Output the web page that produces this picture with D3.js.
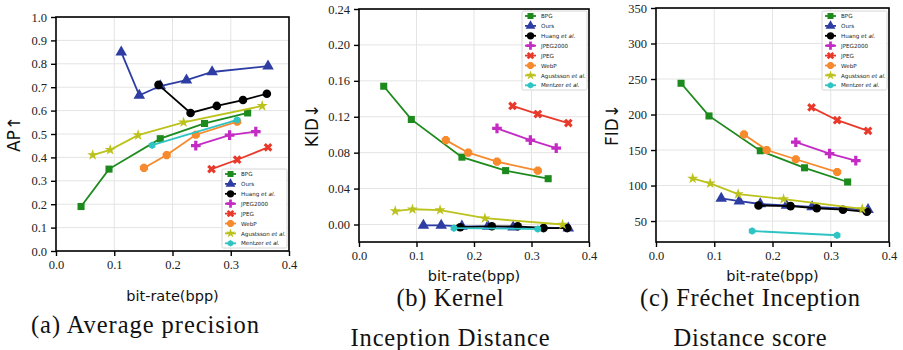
<!DOCTYPE html>
<html>
<head>
<meta charset="utf-8">
<script src="https://cdn.jsdelivr.net/npm/d3@7"></script>
<style>
  body { margin: 0; background: #fff; }
  svg { display: block; }
</style>
</head>
<body>
<div id="chart"></div>
<script>
// methods shown in every panel
const methods = ["BPG", "Ours", "Huang", "JPEG2000", "JPEG", "WebP", "Agustsson", "Mentzer"];
const colors = ["#1d8a1d", "#2e3da3", "#000000", "#c42ac4", "#e8392b", "#f68a2c", "#bcc21c", "#2ec4c4"];
const xTicks = [0.0, 0.1, 0.2, 0.3, 0.4];

// bit-rate (bpp) per method
const bppBPG = [0.043, 0.091, 0.179, 0.255, 0.329];
const bppOurs = [0.112, 0.143, 0.179, 0.224, 0.268, 0.364];
const bppHuang = [0.176, 0.231, 0.276, 0.321, 0.362];
const bppJ2K = [0.240, 0.298, 0.343];
const bppJPEG = [0.267, 0.311, 0.364];
const bppWebP = [0.151, 0.190, 0.240, 0.311];
const bppAgus = [0.063, 0.093, 0.141, 0.219, 0.354];
const bppMentzer = [0.165, 0.311];

// (a) average precision
const apBPG = [0.19, 0.35, 0.48, 0.545, 0.59];
const apOurs = [0.85, 0.665, 0.705, 0.73, 0.765, 0.79];
const apHuang = [0.71, 0.59, 0.62, 0.645, 0.672];
const apJ2K = [0.45, 0.495, 0.51];
const apJPEG = [0.35, 0.39, 0.443];
const apWebP = [0.355, 0.41, 0.497, 0.553];
const apAgus = [0.41, 0.432, 0.495, 0.55, 0.62];
const apMentzer = [0.452, 0.56];
const apTicks = [0.0, 0.1, 0.2, 0.3, 0.4, 0.5, 0.6, 0.7, 0.8, 0.9, 1.0];

// (b) KID
const kidBPG = [0.154, 0.117, 0.075, 0.060, 0.051];
const kidOurs = [-0.001, -0.001, -0.002, -0.002, -0.003, -0.004];
const kidHuang = [-0.003, -0.002, -0.002, -0.004, -0.004];
const kidJ2K = [0.107, 0.094, 0.085];
const kidJPEG = [0.132, 0.123, 0.113];
const kidWebP = [0.094, 0.080, 0.070, 0.060];
const kidAgus = [0.015, 0.017, 0.016, 0.007, 0.000];
const kidMentzer = [-0.004, -0.005];
const kidTicks = [0.00, 0.04, 0.08, 0.12, 0.16, 0.20, 0.24];

// (c) FID
const fidBPG = [244, 198, 149, 125, 105];
const fidOurs = [82, 78, 74, 72, 70, 66];
const fidHuang = [72, 71, 68, 66, 63];
const fidJ2K = [161, 145, 135];
const fidJPEG = [210, 192, 177];
const fidWebP = [172, 150, 137, 119];
const fidAgus = [110, 103, 88, 81, 67];
const fidMentzer = [36, 30];
const fidTicks = [50, 100, 150, 200, 250, 300, 350];

const bpps = [bppBPG, bppOurs, bppHuang, bppJ2K, bppJPEG, bppWebP, bppAgus, bppMentzer];

const W = 903, H = 350;
const svg = d3.select("#chart").append("svg").attr("width", W).attr("height", H);

// marker paths for each method
function polygon(n, r, rot) {
  const pts = d3.range(n).map(i => {
    const a = rot + i * 2 * Math.PI / n;
    return [r * Math.sin(a), -r * Math.cos(a)];
  });
  return "M" + pts.map(p => p.join(",")).join("L") + "Z";
}
const markers = [
  d3.symbol(d3.symbolSquare, 50)(),
  d3.symbol(d3.symbolTriangle, 58)(),
  d3.symbol(d3.symbolCircle, 58)(),
  d3.symbol(d3.symbolCross, 52)(),
  d3.symbol(d3.symbolCross, 48)(),
  polygon(8, 4.4, Math.PI / 8),
  d3.symbol(d3.symbolStar, 38)(),
  polygon(6, 3.8, 0)
];
const markerRot = [0, 0, 0, 0, 45, 0, 0, 0];

function drawPanel(p) {
  const g = svg.append("g");
  const x = d3.scaleLinear().domain([0, 0.4]).range([p.x0, p.x1]);
  const y = d3.scaleLinear().domain(p.yDomain).range([p.y1, p.y0]);

  // grid
  g.append("g").selectAll("line").data(xTicks.slice(1, -1)).join("line")
    .attr("x1", d => x(d)).attr("x2", d => x(d)).attr("y1", p.y0).attr("y2", p.y1)
    .attr("stroke", "#e4e4e4").attr("stroke-width", 1);
  g.append("g").selectAll("line").data(p.yTicks).join("line")
    .attr("x1", p.x0).attr("x2", p.x1).attr("y1", d => y(d)).attr("y2", d => y(d))
    .attr("stroke", "#e4e4e4").attr("stroke-width", 1);

  // axes
  const ax = g.append("g").attr("transform", `translate(0,${p.y1})`)
    .call(d3.axisBottom(x).tickValues(xTicks).tickFormat(d3.format(".1f")).tickSize(5).tickPadding(4).tickSizeOuter(0));
  const ay = g.append("g").attr("transform", `translate(${p.x0},0)`)
    .call(d3.axisLeft(y).tickValues(p.yTicks).tickFormat(p.fmt).tickSize(5).tickPadding(4).tickSizeOuter(0));
  [ax, ay].forEach(a => {
    a.select(".domain").remove();
    a.selectAll("text").attr("font-family", "Liberation Serif, serif").attr("font-size", 12.5).attr("fill", "#222");
    a.selectAll("line").attr("stroke", "#000").attr("stroke-width", 1.4);
  });

  // lines and markers
  methods.forEach((m, i) => {
    const pts = bpps[i].map((b, k) => [b, p.vals[i][k]]);
    g.append("path").datum(pts)
      .attr("fill", "none").attr("stroke", colors[i]).attr("stroke-width", 1.8)
      .attr("d", d3.line().x(d => x(d[0])).y(d => y(d[1])));
    g.append("g").selectAll("path").data(pts).join("path")
      .attr("d", markers[i]).attr("fill", colors[i])
      .attr("transform", d => `translate(${x(d[0])},${y(d[1])}) rotate(${markerRot[i]})`);
  });

  // frame
  g.append("rect").attr("x", p.x0).attr("y", p.y0).attr("width", p.x1 - p.x0).attr("height", p.y1 - p.y0)
    .attr("fill", "none").attr("stroke", "#000").attr("stroke-width", 1.6);

  // legend
  const lg = g.append("g").attr("transform", `translate(${p.lx},${p.ly})`);
  lg.append("rect").attr("width", 65).attr("height", 79).attr("rx", 1.5)
    .attr("fill", "#fff").attr("fill-opacity", 0.9).attr("stroke", "#ccc").attr("stroke-width", 0.8);
  const labels = [["BPG", ""], ["Ours", ""], ["Huang ", "et al."], ["JPEG2000", ""], ["JPEG", ""], ["WebP", ""], ["Agustsson ", "et al."], ["Mentzer ", "et al."]];
  methods.forEach((m, i) => {
    const yy = 5 + i * 9.9;
    lg.append("line").attr("x1", 3).attr("x2", 14).attr("y1", yy).attr("y2", yy)
      .attr("stroke", colors[i]).attr("stroke-width", 1.8);
    lg.append("path").attr("d", markers[i]).attr("fill", colors[i])
      .attr("transform", `translate(8.5,${yy}) rotate(${markerRot[i]}) scale(0.85)`);
    const t = lg.append("text").attr("x", 19).attr("y", yy + 2.1)
      .attr("font-family", "DejaVu Sans, sans-serif").attr("font-size", 5.6).attr("fill", "#222");
    t.append("tspan").text(labels[i][0]);
    if (labels[i][1]) t.append("tspan").attr("font-style", "italic").text(labels[i][1]);
  });

  // axis titles
  svg.append("text").attr("transform", `translate(${p.ylx},${(p.y0 + p.y1) / 2}) rotate(-90)`)
    .attr("text-anchor", "middle").attr("font-family", "DejaVu Sans, sans-serif").attr("font-size", 17)
    .attr("fill", "#111").text(p.ylabel);
  svg.append("text").attr("x", (p.x0 + p.x1) / 2).attr("y", p.xly)
    .attr("text-anchor", "middle").attr("font-family", "DejaVu Sans, sans-serif").attr("font-size", 14.5)
    .attr("fill", "#111").text("bit-rate(bpp)");

  // caption
  p.caption.forEach((c, k) => {
    svg.append("text").attr("x", p.cx).attr("y", p.cy + k * 40)
      .attr("text-anchor", "middle").attr("font-family", "Liberation Serif, serif").attr("font-size", 24.5)
      .attr("textLength", p.capW[k]).attr("lengthAdjust", "spacing")
      .attr("fill", "#111").text(c);
  });
}

drawPanel({
  x0: 56, x1: 289, y0: 17, y1: 251, yDomain: [0, 1], yTicks: apTicks, fmt: d3.format(".1f"),
  vals: [apBPG, apOurs, apHuang, apJ2K, apJPEG, apWebP, apAgus, apMentzer],
  lx: 222, ly: 169, ylx: 20, ylabel: "AP↑", xly: 301,
  caption: ["(a) Average precision"], capW: [228], cx: 145, cy: 333
});
drawPanel({
  x0: 359, x1: 589, y0: 9, y1: 242, yDomain: [-0.0195, 0.24], yTicks: kidTicks, fmt: d3.format(".2f"),
  vals: [kidBPG, kidOurs, kidHuang, kidJ2K, kidJPEG, kidWebP, kidAgus, kidMentzer],
  lx: 522, ly: 11, ylx: 318, ylabel: "KID↓", xly: 281,
  caption: ["(b) Kernel", "Inception Distance"], capW: [107, 199], cx: 450, cy: 306
});
drawPanel({
  x0: 656, x1: 889, y0: 8, y1: 242, yDomain: [20.5, 350], yTicks: fidTicks, fmt: d3.format("d"),
  vals: [fidBPG, fidOurs, fidHuang, fidJ2K, fidJPEG, fidWebP, fidAgus, fidMentzer],
  lx: 822, ly: 11, ylx: 618, ylabel: "FID↓", xly: 281,
  caption: ["(c) Fréchet Inception", "Distance score"], capW: [220, 153], cx: 750, cy: 306
});
</script>
</body>
</html>
